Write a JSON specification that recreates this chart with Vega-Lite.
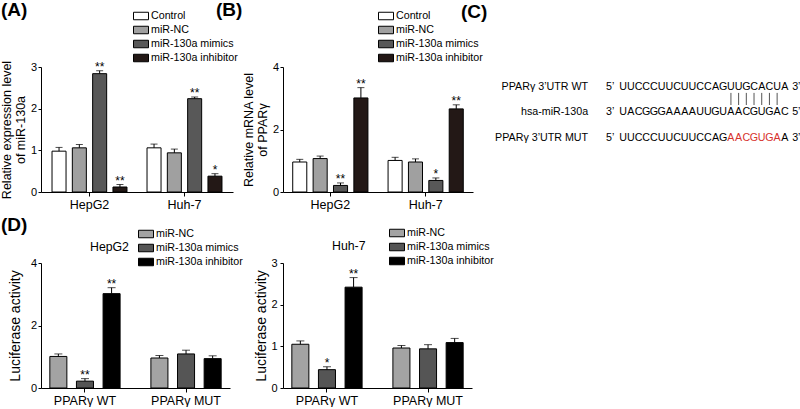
{
  "$schema": "https://vega.github.io/schema/vega-lite/v6.json",
  "padding": 0,
  "background": "white",
  "datasets": {
    "A": [
      {"cell": "HepG2", "group": "Control", "value": 0.98, "upper": 1.07, "sig": ""},
      {"cell": "HepG2", "group": "miR-NC", "value": 1.06, "upper": 1.14, "sig": ""},
      {"cell": "HepG2", "group": "miR-130a mimics", "value": 2.84, "upper": 2.91, "sig": "**"},
      {"cell": "HepG2", "group": "miR-130a inhibitor", "value": 0.12, "upper": 0.18, "sig": "**"},
      {"cell": "Huh-7", "group": "Control", "value": 1.06, "upper": 1.15, "sig": ""},
      {"cell": "Huh-7", "group": "miR-NC", "value": 0.94, "upper": 1.03, "sig": ""},
      {"cell": "Huh-7", "group": "miR-130a mimics", "value": 2.24, "upper": 2.28, "sig": "**"},
      {"cell": "Huh-7", "group": "miR-130a inhibitor", "value": 0.38, "upper": 0.44, "sig": "*"}
    ],
    "B": [
      {"cell": "HepG2", "group": "Control", "value": 0.96, "upper": 1.045, "sig": ""},
      {"cell": "HepG2", "group": "miR-NC", "value": 1.07, "upper": 1.15, "sig": ""},
      {"cell": "HepG2", "group": "miR-130a mimics", "value": 0.21, "upper": 0.29, "sig": "**"},
      {"cell": "HepG2", "group": "miR-130a inhibitor", "value": 3.01, "upper": 3.34, "sig": "**"},
      {"cell": "Huh-7", "group": "Control", "value": 1.01, "upper": 1.11, "sig": ""},
      {"cell": "Huh-7", "group": "miR-NC", "value": 0.96, "upper": 1.06, "sig": ""},
      {"cell": "Huh-7", "group": "miR-130a mimics", "value": 0.37, "upper": 0.45, "sig": "*"},
      {"cell": "Huh-7", "group": "miR-130a inhibitor", "value": 2.66, "upper": 2.79, "sig": "**"}
    ],
    "D1": [
      {"construct": "PPARγ WT", "group": "miR-NC", "value": 1.01, "upper": 1.09, "sig": ""},
      {"construct": "PPARγ WT", "group": "miR-130a mimics", "value": 0.22, "upper": 0.30, "sig": "**"},
      {"construct": "PPARγ WT", "group": "miR-130a inhibitor", "value": 3.02, "upper": 3.21, "sig": "**"},
      {"construct": "PPARγ MUT", "group": "miR-NC", "value": 0.96, "upper": 1.04, "sig": ""},
      {"construct": "PPARγ MUT", "group": "miR-130a mimics", "value": 1.09, "upper": 1.21, "sig": ""},
      {"construct": "PPARγ MUT", "group": "miR-130a inhibitor", "value": 0.94, "upper": 1.03, "sig": ""}
    ],
    "D2": [
      {"construct": "PPARγ WT", "group": "miR-NC", "value": 1.05, "upper": 1.13, "sig": ""},
      {"construct": "PPARγ WT", "group": "miR-130a mimics", "value": 0.44, "upper": 0.51, "sig": "*"},
      {"construct": "PPARγ WT", "group": "miR-130a inhibitor", "value": 2.42, "upper": 2.65, "sig": "**"},
      {"construct": "PPARγ MUT", "group": "miR-NC", "value": 0.96, "upper": 1.02, "sig": ""},
      {"construct": "PPARγ MUT", "group": "miR-130a mimics", "value": 0.94, "upper": 1.04, "sig": ""},
      {"construct": "PPARγ MUT", "group": "miR-130a inhibitor", "value": 1.09, "upper": 1.19, "sig": ""}
    ],
    "bases": [
      {"row": 0, "pos": 0, "base": "U", "kind": "normal"}, {"row": 0, "pos": 1, "base": "U", "kind": "normal"},
      {"row": 0, "pos": 2, "base": "C", "kind": "normal"}, {"row": 0, "pos": 3, "base": "C", "kind": "normal"},
      {"row": 0, "pos": 4, "base": "C", "kind": "normal"}, {"row": 0, "pos": 5, "base": "U", "kind": "normal"},
      {"row": 0, "pos": 6, "base": "U", "kind": "normal"}, {"row": 0, "pos": 7, "base": "C", "kind": "normal"},
      {"row": 0, "pos": 8, "base": "U", "kind": "normal"}, {"row": 0, "pos": 9, "base": "U", "kind": "normal"},
      {"row": 0, "pos": 10, "base": "C", "kind": "normal"}, {"row": 0, "pos": 11, "base": "C", "kind": "normal"},
      {"row": 0, "pos": 12, "base": "A", "kind": "normal"}, {"row": 0, "pos": 13, "base": "G", "kind": "normal"},
      {"row": 0, "pos": 14, "base": "U", "kind": "normal"}, {"row": 0, "pos": 15, "base": "U", "kind": "normal"},
      {"row": 0, "pos": 16, "base": "G", "kind": "normal"}, {"row": 0, "pos": 17, "base": "C", "kind": "normal"},
      {"row": 0, "pos": 18, "base": "A", "kind": "normal"}, {"row": 0, "pos": 19, "base": "C", "kind": "normal"},
      {"row": 0, "pos": 20, "base": "U", "kind": "normal"}, {"row": 0, "pos": 21, "base": "A", "kind": "normal"},
      {"row": 1, "pos": 0, "base": "U", "kind": "normal"}, {"row": 1, "pos": 1, "base": "A", "kind": "normal"},
      {"row": 1, "pos": 2, "base": "C", "kind": "normal"}, {"row": 1, "pos": 3, "base": "G", "kind": "normal"},
      {"row": 1, "pos": 4, "base": "G", "kind": "normal"}, {"row": 1, "pos": 5, "base": "G", "kind": "normal"},
      {"row": 1, "pos": 6, "base": "A", "kind": "normal"}, {"row": 1, "pos": 7, "base": "A", "kind": "normal"},
      {"row": 1, "pos": 8, "base": "A", "kind": "normal"}, {"row": 1, "pos": 9, "base": "A", "kind": "normal"},
      {"row": 1, "pos": 10, "base": "U", "kind": "normal"}, {"row": 1, "pos": 11, "base": "U", "kind": "normal"},
      {"row": 1, "pos": 12, "base": "G", "kind": "normal"}, {"row": 1, "pos": 13, "base": "U", "kind": "normal"},
      {"row": 1, "pos": 14, "base": "A", "kind": "normal"}, {"row": 1, "pos": 15, "base": "A", "kind": "normal"},
      {"row": 1, "pos": 16, "base": "C", "kind": "normal"}, {"row": 1, "pos": 17, "base": "G", "kind": "normal"},
      {"row": 1, "pos": 18, "base": "U", "kind": "normal"}, {"row": 1, "pos": 19, "base": "G", "kind": "normal"},
      {"row": 1, "pos": 20, "base": "A", "kind": "normal"}, {"row": 1, "pos": 21, "base": "C", "kind": "normal"},
      {"row": 2, "pos": 0, "base": "U", "kind": "normal"}, {"row": 2, "pos": 1, "base": "U", "kind": "normal"},
      {"row": 2, "pos": 2, "base": "C", "kind": "normal"}, {"row": 2, "pos": 3, "base": "C", "kind": "normal"},
      {"row": 2, "pos": 4, "base": "C", "kind": "normal"}, {"row": 2, "pos": 5, "base": "U", "kind": "normal"},
      {"row": 2, "pos": 6, "base": "U", "kind": "normal"}, {"row": 2, "pos": 7, "base": "C", "kind": "normal"},
      {"row": 2, "pos": 8, "base": "U", "kind": "normal"}, {"row": 2, "pos": 9, "base": "U", "kind": "normal"},
      {"row": 2, "pos": 10, "base": "C", "kind": "normal"}, {"row": 2, "pos": 11, "base": "C", "kind": "normal"},
      {"row": 2, "pos": 12, "base": "A", "kind": "normal"}, {"row": 2, "pos": 13, "base": "G", "kind": "normal"},
      {"row": 2, "pos": 14, "base": "A", "kind": "mutated"}, {"row": 2, "pos": 15, "base": "A", "kind": "mutated"},
      {"row": 2, "pos": 16, "base": "C", "kind": "mutated"}, {"row": 2, "pos": 17, "base": "G", "kind": "mutated"},
      {"row": 2, "pos": 18, "base": "U", "kind": "mutated"}, {"row": 2, "pos": 19, "base": "G", "kind": "mutated"},
      {"row": 2, "pos": 20, "base": "A", "kind": "mutated"}, {"row": 2, "pos": 21, "base": "A", "kind": "normal"}
    ],
    "pairs": [
      {"pos": 14}, {"pos": 15}, {"pos": 16}, {"pos": 17}, {"pos": 18}, {"pos": 19}, {"pos": 20}
    ],
    "lines": [
      {"row": 0, "label": "PPARγ 3’UTR WT", "first": 0, "last": 21, "left": "5’", "right": "3’"},
      {"row": 1, "label": "hsa-miR-130a", "first": 0, "last": 21, "left": "3’", "right": "5’"},
      {"row": 2, "label": "PPARγ 3’UTR MUT", "first": 0, "last": 21, "left": "5’", "right": "3’"}
    ]
  },
  "concat": [
    {
      "width": 192,
      "height": 125,
      "title": {"text": "(A)", "dx": -40, "offset": -11.7},
      "data": {"name": "A"},
      "encoding": {
        "x": {"field": "cell", "type": "nominal", "sort": ["HepG2", "Huh-7"], "scale": {"paddingInner": 0.147, "paddingOuter": 0.084}, "axis": {"title": null}},
        "xOffset": {"field": "group", "type": "nominal", "sort": ["Control", "miR-NC", "miR-130a mimics", "miR-130a inhibitor"], "scale": {"paddingInner": 0.31, "paddingOuter": 0.15}}
      },
      "layer": [
        {
          "mark": {"type": "bar", "stroke": "#000", "strokeWidth": 1},
          "encoding": {
            "y": {"field": "value", "type": "quantitative", "scale": {"domain": [0, 3], "nice": false}, "axis": {"values": [0, 1, 2, 3], "title": ["Relative expression level", "of miR-130a"]}},
            "color": {"field": "group", "type": "nominal", "sort": ["Control", "miR-NC", "miR-130a mimics", "miR-130a inhibitor"],
              "scale": {"domain": ["Control", "miR-NC", "miR-130a mimics", "miR-130a inhibitor"], "range": ["#ffffff", "#a0a0a0", "#585858", "#231816"]},
              "legend": {"title": null, "legendX": 92, "legendY": -59}}
          }
        },
        {"mark": {"type": "rule", "color": "#000", "strokeWidth": 1}, "encoding": {"y": {"field": "value", "type": "quantitative", "scale": {"domain": [0, 3], "nice": false}}, "y2": {"field": "upper"}}},
        {"mark": {"type": "tick", "color": "#000", "size": 7, "thickness": 1}, "encoding": {"y": {"field": "upper", "type": "quantitative", "scale": {"domain": [0, 3], "nice": false}}}},
        {"mark": {"type": "text", "fontSize": 12, "baseline": "alphabetic", "color": "#000"}, "encoding": {"y": {"field": "upper", "type": "quantitative", "scale": {"domain": [0, 3], "nice": false}}, "text": {"field": "sig"}}}
      ]
    },
    {
      "width": 190,
      "height": 125,
      "title": {"text": "(B)", "dx": -67, "offset": -11.7},
      "data": {"name": "B"},
      "encoding": {
        "x": {"field": "cell", "type": "nominal", "sort": ["HepG2", "Huh-7"], "scale": {"paddingInner": 0.147, "paddingOuter": 0.07}, "axis": {"title": null}},
        "xOffset": {"field": "group", "type": "nominal", "sort": ["Control", "miR-NC", "miR-130a mimics", "miR-130a inhibitor"], "scale": {"paddingInner": 0.31, "paddingOuter": 0.15}}
      },
      "layer": [
        {
          "mark": {"type": "bar", "stroke": "#000", "strokeWidth": 1},
          "encoding": {
            "y": {"field": "value", "type": "quantitative", "scale": {"domain": [0, 4], "nice": false}, "axis": {"values": [0, 1, 2, 3, 4], "title": ["Relative mRNA level", "of PPARγ"]}},
            "color": {"field": "group", "type": "nominal", "sort": ["Control", "miR-NC", "miR-130a mimics", "miR-130a inhibitor"],
              "scale": {"domain": ["Control", "miR-NC", "miR-130a mimics", "miR-130a inhibitor"], "range": ["#ffffff", "#a0a0a0", "#585858", "#231816"]},
              "legend": {"title": null, "legendX": 95, "legendY": -59}}
          }
        },
        {"mark": {"type": "rule", "color": "#000", "strokeWidth": 1}, "encoding": {"y": {"field": "value", "type": "quantitative", "scale": {"domain": [0, 4], "nice": false}}, "y2": {"field": "upper"}}},
        {"mark": {"type": "tick", "color": "#000", "size": 7, "thickness": 1}, "encoding": {"y": {"field": "upper", "type": "quantitative", "scale": {"domain": [0, 4], "nice": false}}}},
        {"mark": {"type": "text", "fontSize": 12, "baseline": "alphabetic", "color": "#000"}, "encoding": {"y": {"field": "upper", "type": "quantitative", "scale": {"domain": [0, 4], "nice": false}}, "text": {"field": "sig"}}}
      ]
    },
    {
      "width": 278,
      "height": 125,
      "title": {"text": "(C)", "dx": -62, "offset": 45.3},
      "layer": [
        {
          "data": {"name": "bases"},
          "mark": {"type": "text", "fontSize": 10.7, "baseline": "middle", "align": "center"},
          "encoding": {
            "x": {"field": "pos", "type": "quantitative", "scale": {"domain": [-13, 23.1], "nice": false, "zero": false}, "axis": null},
            "y": {"field": "row", "type": "quantitative", "scale": {"domain": [-0.78, 4.12], "reverse": true, "nice": false, "zero": false}, "axis": null},
            "text": {"field": "base"},
            "color": {"field": "kind", "type": "nominal", "scale": {"domain": ["normal", "mutated"], "range": ["#000000", "#d7322d"]}, "legend": null}
          }
        },
        {
          "data": {"name": "pairs"},
          "mark": {"type": "rule", "color": "#555555", "strokeWidth": 1},
          "encoding": {
            "x": {"field": "pos", "type": "quantitative"},
            "y": {"datum": 0.235, "type": "quantitative"},
            "y2": {"datum": 0.71}
          }
        },
        {
          "data": {"name": "lines"},
          "mark": {"type": "text", "fontSize": 10.7, "baseline": "middle", "align": "right", "dx": -35, "color": "#000"},
          "encoding": {
            "x": {"field": "first", "type": "quantitative"},
            "y": {"field": "row", "type": "quantitative"},
            "text": {"field": "label"}
          }
        },
        {
          "data": {"name": "lines"},
          "mark": {"type": "text", "fontSize": 10.7, "baseline": "middle", "align": "center", "dx": -13, "color": "#000"},
          "encoding": {
            "x": {"field": "first", "type": "quantitative"},
            "y": {"field": "row", "type": "quantitative"},
            "text": {"field": "left"}
          }
        },
        {
          "data": {"name": "lines"},
          "mark": {"type": "text", "fontSize": 10.7, "baseline": "middle", "align": "center", "dx": 11.5, "color": "#000"},
          "encoding": {
            "x": {"field": "last", "type": "quantitative"},
            "y": {"field": "row", "type": "quantitative"},
            "text": {"field": "right"}
          }
        }
      ]
    },
    {
      "width": 189,
      "height": 125,
      "title": {"text": "(D)", "dx": -40, "offset": -9},
      "data": {"name": "D1"},
      "encoding": {
        "x": {"field": "construct", "type": "nominal", "sort": ["PPARγ WT", "PPARγ MUT"], "scale": {"paddingInner": 0.21, "paddingOuter": 0.04}, "axis": {"title": null}},
        "xOffset": {"field": "group", "type": "nominal", "sort": ["miR-NC", "miR-130a mimics", "miR-130a inhibitor"], "scale": {"paddingInner": 0.36, "paddingOuter": 0.18}}
      },
      "layer": [
        {
          "mark": {"type": "bar", "stroke": "#000", "strokeWidth": 1},
          "encoding": {
            "y": {"field": "value", "type": "quantitative", "scale": {"domain": [0, 4], "nice": false}, "axis": {"values": [0, 1, 2, 3, 4], "title": "Luciferase activity", "titleFontSize": 14, "titlePadding": 8}},
            "color": {"field": "group", "type": "nominal", "sort": ["miR-NC", "miR-130a mimics", "miR-130a inhibitor"],
              "scale": {"domain": ["miR-NC", "miR-130a mimics", "miR-130a inhibitor"], "range": ["#a3a3a3", "#555555", "#000000"]},
              "legend": {"title": "HepG2", "titleOrient": "left", "titleFontSize": 12.3, "titleFontWeight": "normal", "titlePadding": 9, "titleAnchor": "middle", "titleBaseline": "middle", "legendX": 49, "legendY": -37, "rowPadding": -1.5}}
          }
        },
        {"mark": {"type": "rule", "color": "#000", "strokeWidth": 1}, "encoding": {"y": {"field": "value", "type": "quantitative", "scale": {"domain": [0, 4], "nice": false}}, "y2": {"field": "upper"}}},
        {"mark": {"type": "tick", "color": "#000", "size": 8, "thickness": 1}, "encoding": {"y": {"field": "upper", "type": "quantitative", "scale": {"domain": [0, 4], "nice": false}}}},
        {"mark": {"type": "text", "fontSize": 12, "baseline": "alphabetic", "color": "#000"}, "encoding": {"y": {"field": "upper", "type": "quantitative", "scale": {"domain": [0, 4], "nice": false}}, "text": {"field": "sig"}}}
      ]
    },
    {
      "width": 189,
      "height": 125,
      "data": {"name": "D2"},
      "encoding": {
        "x": {"field": "construct", "type": "nominal", "sort": ["PPARγ WT", "PPARγ MUT"], "scale": {"paddingInner": 0.21, "paddingOuter": 0.04}, "axis": {"title": null}},
        "xOffset": {"field": "group", "type": "nominal", "sort": ["miR-NC", "miR-130a mimics", "miR-130a inhibitor"], "scale": {"paddingInner": 0.36, "paddingOuter": 0.18}}
      },
      "layer": [
        {
          "mark": {"type": "bar", "stroke": "#000", "strokeWidth": 1},
          "encoding": {
            "y": {"field": "value", "type": "quantitative", "scale": {"domain": [0, 3], "nice": false}, "axis": {"values": [0, 1, 2, 3], "title": "Luciferase activity", "titleFontSize": 14, "titlePadding": 2, "labelPadding": 3}},
            "color": {"field": "group", "type": "nominal", "sort": ["miR-NC", "miR-130a mimics", "miR-130a inhibitor"],
              "scale": {"domain": ["miR-NC", "miR-130a mimics", "miR-130a inhibitor"], "range": ["#a3a3a3", "#555555", "#000000"]},
              "legend": {"title": "Huh-7", "titleOrient": "left", "titleFontSize": 12.3, "titleFontWeight": "normal", "titlePadding": 23, "titleAnchor": "middle", "titleBaseline": "middle", "legendX": 49, "legendY": -38, "rowPadding": -1.5}}
          }
        },
        {"mark": {"type": "rule", "color": "#000", "strokeWidth": 1}, "encoding": {"y": {"field": "value", "type": "quantitative", "scale": {"domain": [0, 3], "nice": false}}, "y2": {"field": "upper"}}},
        {"mark": {"type": "tick", "color": "#000", "size": 8, "thickness": 1}, "encoding": {"y": {"field": "upper", "type": "quantitative", "scale": {"domain": [0, 3], "nice": false}}}},
        {"mark": {"type": "text", "fontSize": 12, "baseline": "alphabetic", "color": "#000"}, "encoding": {"y": {"field": "upper", "type": "quantitative", "scale": {"domain": [0, 3], "nice": false}}, "text": {"field": "sig"}}}
      ]
    }
  ],
  "columns": 3,
  "align": "none",
  "bounds": "flush",
  "spacing": {"row": 71, "column": 50},
  "resolve": {"scale": {"color": "independent", "xOffset": "independent"}, "legend": {"color": "independent"}},
  "config": {
    "font": "Liberation Sans",
    "view": {"stroke": null},
    "axis": {"domainColor": "#000", "tickColor": "#000", "labelColor": "#000", "titleColor": "#000", "grid": false, "titleFontWeight": "normal", "labelFont": "Liberation Sans", "titleFont": "Liberation Sans"},
    "axisX": {"labelAngle": 0, "labelFontSize": 12.5, "tickSize": 4, "labelPadding": 2},
    "axisY": {"labelFontSize": 11, "tickSize": 3, "labelPadding": 1.5, "titleFontSize": 12.5, "titleLineHeight": 14, "titlePadding": 3},
    "legend": {"orient": "none", "padding": 0, "labelFontSize": 10.7, "labelColor": "#000", "labelFont": "Liberation Sans", "titleColor": "#000", "symbolType": "M-1,-0.5H1V0.5H-1Z", "symbolSize": 225, "symbolStrokeColor": "#000", "symbolStrokeWidth": 1, "labelOffset": 2, "rowPadding": -1},
    "title": {"fontSize": 19, "fontWeight": "bold", "anchor": "start", "frame": "group", "color": "#000", "font": "Liberation Sans"},
    "text": {"font": "Liberation Sans"}
  }
}
